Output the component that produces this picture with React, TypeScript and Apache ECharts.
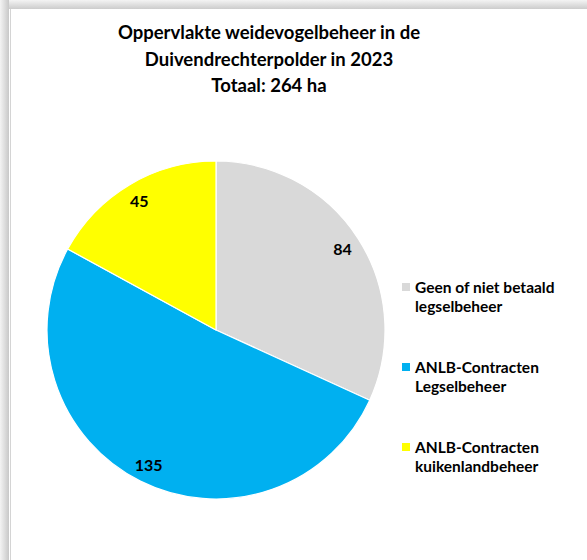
import React, { useEffect, useRef } from "react";
import * as echarts from "echarts";

const categories = [
  "Geen of niet betaald\nlegselbeheer",
  "ANLB-Contracten\nLegselbeheer",
  "ANLB-Contracten\nkuikenlandbeheer",
];
const values = [84, 135, 45];
const colors = ["#D9D9D9", "#00B0F0", "#FFFF00"];
const titleLines = ["Oppervlakte weidevogelbeheer in de", "Duivendrechterpolder in 2023"];

const FONT = "Lato, 'Open Sans', sans-serif";

export default function App() {
  const ref = useRef<HTMLDivElement>(null);
  useEffect(() => {
    if (!ref.current) return;
    const chart = echarts.init(ref.current, null, { renderer: "svg" });
    const total = values.reduce((a, b) => a + b, 0);
    const data = categories.map((name, i) => ({
      name,
      value: values[i],
      itemStyle: { color: colors[i] },
    }));
    chart.setOption({
      animation: false,
      backgroundColor: "#ffffff",
      title: {
        text: [...titleLines, `Totaal: ${total} ha`].join("\n"),
        left: 269,
        top: 19,
        padding: 0,
        textAlign: "center",
        textStyle: {
          fontFamily: FONT,
          fontSize: 18.5,
          fontWeight: "bold",
          color: "#000",
          lineHeight: 26.5,
        },
      },
      graphic: [
        {
          type: "rect",
          shape: { x: 0, y: 0, width: 587, height: 9 },
          style: {
            fill: new echarts.graphic.LinearGradient(0, 0, 0, 1, [
              { offset: 0, color: "#f4f4f4" },
              { offset: 1, color: "#cccccc" },
            ]),
          },
          silent: true,
        },
        {
          type: "rect",
          shape: { x: 0, y: 0, width: 9, height: 560 },
          style: {
            fill: new echarts.graphic.LinearGradient(0, 0, 1, 0, [
              { offset: 0, color: "#f4f4f4" },
              { offset: 1, color: "#c8c8c8" },
            ]),
          },
          silent: true,
        },
        {
          type: "line",
          shape: { x1: 10.5, y1: 9, x2: 10.5, y2: 560 },
          style: { stroke: "#d4d4d4", lineWidth: 1 },
          silent: true,
        },
      ],
      legend: {
        orient: "vertical",
        left: 402,
        top: 277,
        padding: 0,
        itemGap: 41,
        itemWidth: 8,
        itemHeight: 27,
        icon: "path://M0 0H8V8H0Z M0 27L0.01 27",
        itemStyle: { borderWidth: 0 },
        data: categories,
        selectedMode: false,
        textStyle: {
          fontFamily: FONT,
          fontSize: 15.5,
          fontWeight: "bold",
          color: "#000",
          lineHeight: 19.5,
        },
      },
      series: [
        {
          type: "pie",
          center: [216, 330],
          radius: [0, 169],
          startAngle: 90,
          clockwise: true,
          label: { show: false },
          labelLine: { show: false },
          itemStyle: { borderColor: "#ffffff", borderWidth: 1.2 },
          emphasis: { disabled: true },
          data,
        },
        {
          type: "pie",
          center: [216, 330],
          radius: [126, 169],
          startAngle: 90,
          clockwise: true,
          silent: true,
          itemStyle: { color: "rgba(0,0,0,0)", borderWidth: 0 },
          label: {
            show: true,
            position: "inside",
            formatter: "{c}",
            fontFamily: FONT,
            fontSize: 16,
            fontWeight: "bold",
            color: "#000",
          },
          labelLine: { show: false },
          emphasis: { disabled: true },
          data: categories.map((name, i) => ({ name, value: values[i] })),
        },
      ],
    });
    return () => chart.dispose();
  }, []);
  return (
    <div
      ref={ref}
      style={{ position: "fixed", left: 0, top: 0, width: 587, height: 560 }}
    />
  );
}
